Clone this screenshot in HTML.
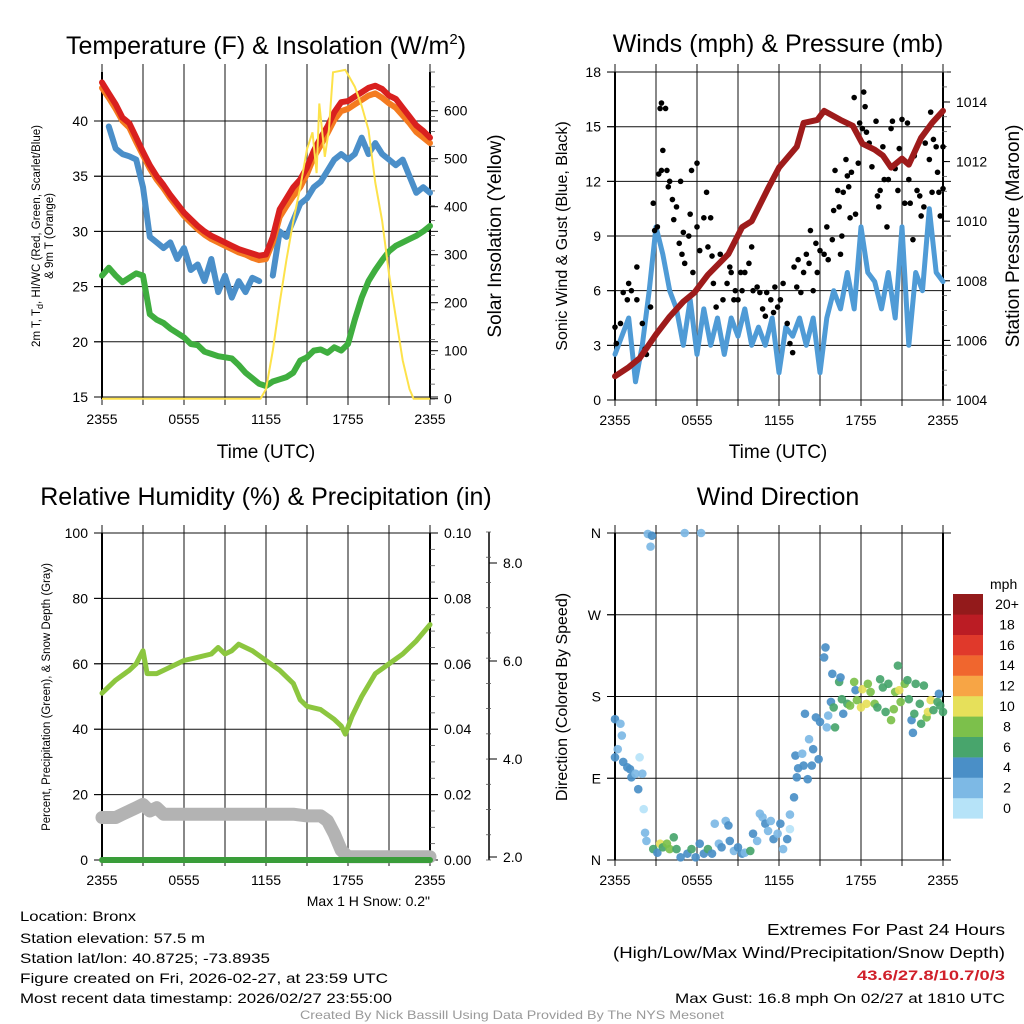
<!DOCTYPE html>
<html><head><meta charset="utf-8"><style>
html,body{margin:0;padding:0;background:#fff;}
svg{display:block;font-family:"Liberation Sans",Arial,sans-serif;}
</style></head><body>
<svg id="root" width="1024" height="1024" viewBox="0 0 1024 1024" xmlns="http://www.w3.org/2000/svg">
<rect width="1024" height="1024" fill="#fff"/>
<g id="p1"></g>
<g id="p2"></g>
<g id="p3"></g>
<g id="p4"></g>
<g id="texts">
<text x="266" y="54" font-size="25" text-anchor="middle">Temperature (F) &amp; Insolation (W/m<tspan dy="-10" font-size="15">2</tspan><tspan dy="10">)</tspan></text>
<text x="778" y="52" font-size="25" text-anchor="middle">Winds (mph) &amp; Pressure (mb)</text>
<text x="266" y="505" font-size="25" text-anchor="middle">Relative Humidity (%) &amp; Precipitation (in)</text>
<text x="778" y="505" font-size="25" text-anchor="middle">Wind Direction</text>
<text x="266" y="458" font-size="19" text-anchor="middle">Time (UTC)</text>
<text x="778" y="458" font-size="19" text-anchor="middle">Time (UTC)</text>
<text transform="translate(40,236) rotate(-90)" font-size="11.5" text-anchor="middle">2m T, T<tspan dy="3" font-size="9">d</tspan><tspan dy="-3">, HI/WC (Red, Green, Scarlet/Blue)</tspan></text>
<text transform="translate(53,236) rotate(-90)" font-size="11.5" text-anchor="middle">&amp; 9m T (Orange)</text>
<text transform="translate(501,236) rotate(-90)" font-size="19" text-anchor="middle">Solar Insolation (Yellow)</text>
<text transform="translate(567,236) rotate(-90)" font-size="16" text-anchor="middle">Sonic Wind &amp; Gust (Blue, Black)</text>
<text transform="translate(1019,236) rotate(-90)" font-size="19" text-anchor="middle">Station Pressure (Maroon)</text>
<text transform="translate(50,697) rotate(-90)" font-size="11.5" text-anchor="middle">Percent, Precipitation (Green), &amp; Snow Depth (Gray)</text>
<text transform="translate(567,697) rotate(-90)" font-size="16" text-anchor="middle">Direction (Colored By Speed)</text>
<text x="430" y="906" font-size="14" text-anchor="end">Max 1 H Snow: 0.2"</text>
<g font-size="14">
<text x="20" y="921" textLength="116" lengthAdjust="spacingAndGlyphs">Location: Bronx</text>
<text x="20" y="943" textLength="185" lengthAdjust="spacingAndGlyphs">Station elevation: 57.5 m</text>
<text x="20" y="963" textLength="250" lengthAdjust="spacingAndGlyphs">Station lat/lon: 40.8725; -73.8935</text>
<text x="20" y="983" textLength="368" lengthAdjust="spacingAndGlyphs">Figure created on Fri, 2026-02-27, at 23:59 UTC</text>
<text x="20" y="1003" textLength="372" lengthAdjust="spacingAndGlyphs">Most recent data timestamp: 2026/02/27 23:55:00</text>
</g>
<g text-anchor="end">
<text x="1005" y="935" font-size="16" textLength="238" lengthAdjust="spacingAndGlyphs">Extremes For Past 24 Hours</text>
<text x="1005" y="958" font-size="16" textLength="392" lengthAdjust="spacingAndGlyphs">(High/Low/Max Wind/Precipitation/Snow Depth)</text>
<text x="1005" y="980" font-size="14" font-weight="bold" fill="#d0202a" textLength="148" lengthAdjust="spacingAndGlyphs">43.6/27.8/10.7/0/3</text>
<text x="1005" y="1003" font-size="14" textLength="330" lengthAdjust="spacingAndGlyphs">Max Gust: 16.8 mph On 02/27 at 1810 UTC</text>
</g>
<text x="512" y="1019" font-size="12" fill="#999" text-anchor="middle" textLength="424" lengthAdjust="spacingAndGlyphs">Created By Nick Bassill Using Data Provided By The NYS Mesonet</text>
</g>
</svg>
<script>
// ---------- DATA ----------
const halfHours = [0,0.5,1,1.5,2,2.5,3,3.5,4,4.5,5,5.5,6,6.5,7,7.5,8,8.5,9,9.5,10,10.5,11,11.5,12,12.5,13,13.5,14,14.5,15,15.5,16,16.5,17,17.5,18,18.5,19,19.5,20,20.5,21,21.5,22,22.5,23,23.5,24];
const tempRed = [43.5,42.5,41.5,40.3,39.8,38.5,37.2,36,35,34.2,33.3,32.5,31.7,31.1,30.5,30,29.6,29.3,29,28.7,28.4,28.2,28,27.8,27.9,29.5,32,33,34,34.7,35.8,37.3,38.5,39.5,40.8,41.7,41.8,42.2,42.6,43,43.2,42.9,42.3,42,41.2,40.4,39.6,39.1,38.5];
const tempOrange = [43,42.1,41.1,40,39.4,38.1,36.9,35.7,34.7,33.9,33,32.2,31.4,30.8,30.2,29.7,29.3,29,28.7,28.4,28.1,27.9,27.6,27.4,27.5,29,31.3,32.3,33.2,34,35.2,36.7,37.8,38.9,40.1,40.9,41.1,41.5,41.9,42.3,42.5,42.1,41.6,41.2,40.5,39.8,39,38.5,38];
const tempBlue = [null,39.5,37.5,37,36.8,36.5,34,29.5,29,28.5,29,27.5,28.5,26.5,27,25.5,27.5,24.5,26,24,25.5,24.5,25.8,25.5,null,26,30,29.5,31,32.5,33,34,34.5,35.5,36.5,37,36.5,37,38.5,37,38,37,36.5,36,36.5,35,33.5,34,33.5];
const tempGreen = [26,26.7,26,25.4,25.8,26.2,26,22.5,22,21.7,21.2,20.8,20.4,19.8,19.7,19.1,18.9,18.7,18.6,18.5,17.9,17.2,16.7,16.2,16,16.4,16.6,16.8,17.2,18.3,18.6,19.2,19.3,19,19.5,19.2,19.8,22,24,25.5,26.5,27.4,28.2,28.7,29,29.3,29.6,30,30.5];
const solarHours = [0,11.6,12,12.5,13,13.5,14,14.5,15,15.4,15.7,15.9,16.3,16.6,16.9,17.8,18.5,19,19.5,20,20.5,21,21.5,22,22.5,22.8,24];
const solarVals = [0,0,20,100,200,290,370,440,520,555,470,615,504,560,680,685,650,610,560,450,370,260,170,80,20,0,0];
const tempTicks = [15,20,25,30,35,40];
const solarTicks = [0,100,200,300,400,500,600];
const timeLabels = ["2355","0555","1155","1755","2355"];

const windSpeed = [2.5,3.5,4.5,1,3,6,9.5,8,6,5,3,5.5,2.5,5,3,4.5,2.5,4.5,3.5,5,3,4,3,4.5,1.5,4,3.5,4.5,3,4.5,1.5,4.5,6,5,7,5,9.5,7,6.5,5,7,4.5,9.5,3,7,6,10.5,7,6.5];
const pressHours = [0,1,1.8,3,4,5,5.8,6.8,8.3,9.3,10,11.2,12,13.3,13.8,14.8,15.3,16.5,17.4,18.1,19,19.6,20.2,21,21.5,22.4,23.2,24];
const pressVals = [1004.8,1005.1,1005.4,1006.2,1006.8,1007.3,1007.6,1008.2,1008.9,1009.8,1010,1011.1,1011.8,1012.5,1013.3,1013.4,1013.7,1013.4,1013.2,1012.6,1012.4,1012.2,1011.8,1012.1,1011.9,1012.8,1013.3,1013.7];
const gustHours = [0,0.1,0.4,0.6,0.9,1,1.2,1.6,1.6,2,2.2,2.3,2.6,2.8,2.9,3.1,3.2,3.3,3.4,3.7,3.5,3.4,3.8,3.9,4,4.2,4.3,4.5,4.7,4.8,4.9,5,5.1,5.4,5.5,5.6,5.7,6,6,6.2,6.5,6.7,6.8,7,7.1,7.2,7.4,7.7,7.9,8.2,8.4,8.5,8.7,8.8,9,9.2,9.3,9.5,9.8,10,10.1,10.4,10.6,10.8,11,11.1,11.4,11.6,11.7,11.9,12.1,12.3,12.6,12.8,13,13.1,13.3,13.4,13.6,13.8,14,14.2,14.3,14.5,14.7,14.8,15,15.3,15.5,15.6,15.9,16,16.1,16.3,16.4,16.5,16.6,16.7,16.9,17,17.1,17.2,17.3,17.5,17.6,17.8,17.9,18.1,18.2,18.3,18.4,18.6,18.8,19.1,19.2,19.3,19.4,19.6,19.7,19.9,20,20.2,20.3,20.5,20.7,20.8,21,21.2,21.4,21.5,21.6,21.8,21.9,22.1,22.3,22.4,22.6,22.7,23,23.1,23.2,23.3,23.5,23.6,23.7,23.8,24,24];
const gustVals = [4,3.1,4.2,5.9,5.5,6.4,6,7.3,5.5,4.2,2.8,2.5,5.1,10.8,9.3,9.5,12.4,16,16.3,16,13.7,12.6,12.6,11.7,12,11,9.9,10.6,8.6,12,8,9.2,7.5,9,10.2,12.6,7,13,9.5,8.2,10,11.4,8.4,10,7.9,6.4,5.1,8,5.5,6.4,7.3,7,5.5,6,5.5,7,6,7,7.5,8.4,6,6.2,5.9,5,4.6,5.9,5.5,4.8,6.2,5.1,5.5,6.4,4.2,3.1,2.6,7.3,6.2,7.7,5.9,7,8,7.5,9.3,6,8.6,7,8.2,8,9.5,7.7,8.8,10.4,12.6,11.5,10.6,8,9,11.4,13.2,12.3,11.7,10,12.5,16.6,10.2,13,15.2,14.9,16.9,16.1,14.7,14.1,12.8,15.3,11.2,10.6,11.5,13.9,12.1,9.5,12.1,14.9,15.3,12.7,11.5,13.8,15.4,10.8,15.2,12.1,10.8,8.8,13.4,11.5,11.2,10.1,10.6,14.1,13.2,15.8,11.4,14.3,13.9,12.5,11.4,10.1,13.9,11.6];
const windTicks = [0,3,6,9,12,15,18];
const pressTicks = [1004,1006,1008,1010,1012,1014];

const rhHours = [0,1,2,2.5,3,3.3,4,5,6,7,8,8.5,9,9.5,10,10.5,11,12,13,14,14.5,15,16,17,17.5,17.8,18.3,19,20,21,22,23,24];
const rhVals = [51,55,58,60,64,57,57,59,61,62,63,65,63,64,66,65,64,61,58,54,49,47,46,43,41,38.5,44,50,57,60,63,67,72];
const snowHours = [0,1,1.5,2,2.5,3,3.5,4,4.5,5,6,8,10,12,14,15,16,16.5,17,17.5,18,24];
const snowPct = [13,13,14,15,16,17,15,16,14,14,14,14,14,14,14,13.5,13.5,12,8,3,1,1];
const precipHours = [0,24];
const precipVals = [0,0];
const rhTicks = [0,20,40,60,80,100];
const precipTicks = ["0.00","0.02","0.04","0.06","0.08","0.10"];
const snowTicks = ["2.0","4.0","6.0","8.0"];

const dirHours = [0,0.4,0.5,0.2,0,0.6,0.9,1.1,1.2,1.5,1.7,1.8,2,2.1,2.2,2.3,2.4,2.7,2.6,2.8,3.1,3.3,3.5,3.8,4,4.3,4.5,4.8,5.1,5.3,5.6,5.9,6.2,6.3,6.5,6.8,7.1,7.3,7.6,7.8,8.1,8.3,8.4,8.7,9,9.3,9.5,9.9,10.1,10.4,10.6,10.8,11,11.2,11.4,11.6,11.9,12.1,12.3,12.6,12.8,12.8,13.1,13.2,13.3,13.4,13.7,13.8,13.9,14.1,14.2,14.4,14.5,14.7,14.9,15,15.3,15.4,15.5,15.6,15.8,15.9,16,16.1,16.4,16.5,16.6,16.7,17,17.2,17.5,17.6,17.7,18,18.1,18.4,18.5,18.7,19,19.2,19.4,19.6,19.8,20,20.2,20.4,20.5,20.7,20.8,20.9,21.2,21.4,21.5,21.7,21.8,21.9,22,22.3,22.4,22.6,22.8,22.9,23.1,23.3,23.6,23.7,23.8,24];
const dirDeg = [155,150,137,122,113,108,102,100,91,95,78,113,95,56,30,21,359,357,345,12,8,18,14,18,12,25,12,3,360,7,12,3,18,360,7,12,7,40,18,14,43,38,21,10,14,7,8,10,29,21,51,47,40,32,43,23,29,40,12,23,34,50,69,115,91,101,117,104,161,89,133,104,122,157,111,152,223,234,146,159,174,205,168,146,196,201,177,161,172,170,196,187,176,168,188,172,194,185,172,168,199,190,163,194,154,166,185,214,187,174,194,198,177,154,140,161,194,172,150,192,157,163,176,165,174,183,170,163];
const dirSpeed = [4,2,2,2,4,4,4,4,4,2,4,0,2,0,2,2,2,4,2,6,4,10,6,8,8,6,6,4,2,4,6,4,4,2,4,6,4,2,2,4,2,4,4,2,4,4,2,6,4,2,2,2,4,2,2,4,2,4,2,4,0,2,4,4,4,4,2,4,4,4,2,4,4,4,4,4,4,4,2,2,4,4,6,6,6,4,6,4,6,8,8,4,8,10,10,10,8,8,8,6,6,6,6,6,8,8,8,6,10,8,8,6,6,4,4,6,6,6,6,6,8,10,10,6,6,4,6,6];
const dirLabels = ["N","E","S","W","N"];
const speedBins = ["0","2","4","6","8","10","12","14","16","18","20+"];

// ---------- HELPERS ----------
const NS = "http://www.w3.org/2000/svg";
function mk(parent, tag, attrs){const e=document.createElementNS(NS,tag);for(const k in attrs)e.setAttribute(k,attrs[k]);parent.appendChild(e);return e;}
const X0=[102,615], PW=328;
function xh(col,h){return X0[col]+h/24*PW;}
const speedColors=["#b6e3f8","#7db9e5","#4a8fc7","#48a56c","#7cc04b","#e6e05a","#f7a545","#f0662e","#e0392b","#bb1c24","#931a1b"];
function linePath(hours, vals, xf, yf){let d="",pen=false;for(let i=0;i<hours.length;i++){if(vals[i]===null){pen=false;continue;}d+=(pen?"L":"M")+xf(hours[i]).toFixed(1)+","+yf(vals[i]).toFixed(1);pen=true;}return d;}
function grid(g,col,top,bot,hvals,yf){
  for(let k=0;k<=8;k++){const x=X0[col]+k*PW/8;
    const l=mk(g,"line",{x1:x,y1:top-8,x2:x,y2:bot+6,stroke:"#555","stroke-width":1.4});
    
    }
  hvals.forEach(v=>{const y=yf(v);
    const l=mk(g,"line",{x1:X0[col]-8,y1:y,x2:X0[col]+PW+8,y2:y,stroke:"#111","stroke-width":1});
    
    });
  const b=mk(g,"line",{x1:X0[col],y1:top,x2:X0[col],y2:bot,stroke:"#000","stroke-width":2});
  
  
  const r=mk(g,"line",{x1:X0[col]+PW,y1:top,x2:X0[col]+PW,y2:bot,stroke:"#000","stroke-width":2});
  
  
  timeLabels.forEach((t,i)=>{const tx=mk(g,"text",{x:X0[col]+i*PW/4,y:bot+25,"font-size":14,"text-anchor":"middle"});tx.textContent=t;
    
    });
}
function ticks(g,xLine,vals,labels,yf,side,fs){
  vals.forEach((v,i)=>{const y=yf(v);
    const tk=mk(g,"line",{x1:xLine,y1:y,x2:xLine+(side>0?8:-8),y2:y,stroke:"#000","stroke-width":1});
    
    
    const t=mk(g,"text",{x:xLine+(side>0?14:-14),y:y+5,"font-size":fs,"text-anchor":side>0?"start":"end"});t.textContent=labels[i];
    
    });
}
function minor(g,xLine,y0,y1,n){for(let i=0;i<=n;i++){const y=y0+(y1-y0)*i/n;const m=mk(g,"line",{x1:xLine,y1:y,x2:xLine+5,y2:y,stroke:"#555","stroke-width":0.8});
  
  }}

// ---------- PANEL 1 ----------
(function(){
  const g=document.getElementById("p1");
  const yL=v=>397-(v-15)*11.04, yR=v=>398.7-v*0.48, xf=h=>xh(0,h);
  grid(g,0,72,399,tempTicks,yL);
  minor(g,430,72,399,22);
  ticks(g,102,tempTicks,tempTicks.map(String),yL,-1,14);
  ticks(g,430,solarTicks,solarTicks.map(String),yR,1,14);
  const series=[[tempGreen,"#3fae3f","dewpoint-line"],[tempBlue,"#4b8fc9","windchill-line"],[tempOrange,"#f47b20","temp-9m-line"],[tempRed,"#d9201f","temp-2m-line"]];
  series.forEach(s=>{const p=mk(g,"path",{d:linePath(halfHours,s[0],xf,yL),fill:"none",stroke:s[1],"stroke-width":6,"stroke-linecap":"round","stroke-linejoin":"round"});
    
    });
  const y=mk(g,"path",{d:linePath(solarHours,solarVals,xf,yR),fill:"none",stroke:"#fde24a","stroke-width":2});
  
  
})();

// ---------- PANEL 2 ----------
(function(){
  const g=document.getElementById("p2");
  const yL=v=>400-v*18.22, yR=v=>400-(v-1004)*29.8, xf=h=>xh(1,h);
  grid(g,1,72,400,windTicks,yL);
  minor(g,942,72,400,22);
  ticks(g,615,windTicks,windTicks.map(String),yL,-1,14);
  ticks(g,942,pressTicks,pressTicks.map(String),yR,1,14);
  const w=mk(g,"path",{d:linePath(halfHours,windSpeed,xf,yL),fill:"none",stroke:"#4f9bd6","stroke-width":5,"stroke-linejoin":"round","stroke-linecap":"round"});
  
  
  gustHours.forEach((h,i)=>{const c=mk(g,"circle",{cx:xf(h),cy:yL(gustVals[i]),r:2.8,fill:"#000"});
    
    });
  const p=mk(g,"path",{d:linePath(pressHours,pressVals,xf,yR),fill:"none",stroke:"#9e1b1b","stroke-width":6,"stroke-linejoin":"round","stroke-linecap":"round"});
  
  
})();

// ---------- PANEL 3 ----------
(function(){
  const g=document.getElementById("p3");
  const yL=v=>860-v*3.27, xf=h=>xh(0,h);
  grid(g,0,533,860,rhTicks,yL);
  minor(g,430,533,860,20);
  ticks(g,102,rhTicks,rhTicks.map(String),yL,-1,14);
  ticks(g,430,rhTicks,precipTicks,yL,1,14);
  const ax=mk(g,"line",{x1:489,y1:532,x2:489,y2:860,stroke:"#000","stroke-width":1.5});
  
  
  const ySnow=v=>857-(v-2)*49;
  minor(g,486,532,860,13);
  ticks(g,489,[2,4,6,8],snowTicks,ySnow,1,14);
  const s=mk(g,"path",{d:linePath(snowHours,snowPct,xf,yL),fill:"none",stroke:"#b3b3b3","stroke-width":13,"stroke-linecap":"round","stroke-linejoin":"round"});
  
  
  const pr=mk(g,"path",{d:linePath(precipHours,precipVals,xf,yL),fill:"none",stroke:"#3a9d3a","stroke-width":6,"stroke-linecap":"round"});
  
  
  const r=mk(g,"path",{d:linePath(rhHours,rhVals,xf,yL),fill:"none",stroke:"#8cc63f","stroke-width":5,"stroke-linecap":"round","stroke-linejoin":"round"});
  
  
})();

// ---------- PANEL 4 ----------
(function(){
  const g=document.getElementById("p4");
  const yD=v=>860-v*327/360, xf=h=>xh(1,h);
  grid(g,1,533,860,[0,90,180,270,360],yD);
  ticks(g,615,[0,90,180,270,360],dirLabels,yD,-1,14);
  dirHours.forEach((h,i)=>{const c=mk(g,"circle",{cx:xf(h),cy:yD(dirDeg[i]),r:4.3,fill:speedColors[Math.min(10,Math.round(dirSpeed[i]/2))],"fill-opacity":0.92});
    
    });
  const lg=mk(g,"g",{});
  
  
  const t=mk(lg,"text",{x:990,y:589,"font-size":14});t.textContent="mph";
  
  
  speedBins.forEach((b,i)=>{const y=594+(10-i)*20.4;
    const r=mk(lg,"rect",{x:953,y:y,width:30,height:20.6,fill:speedColors[i]});
    
    
    const tx=mk(lg,"text",{x:1007,y:y+15,"font-size":14,"text-anchor":"middle"});tx.textContent=b;
    
    });
})();
</script>
</body></html>
